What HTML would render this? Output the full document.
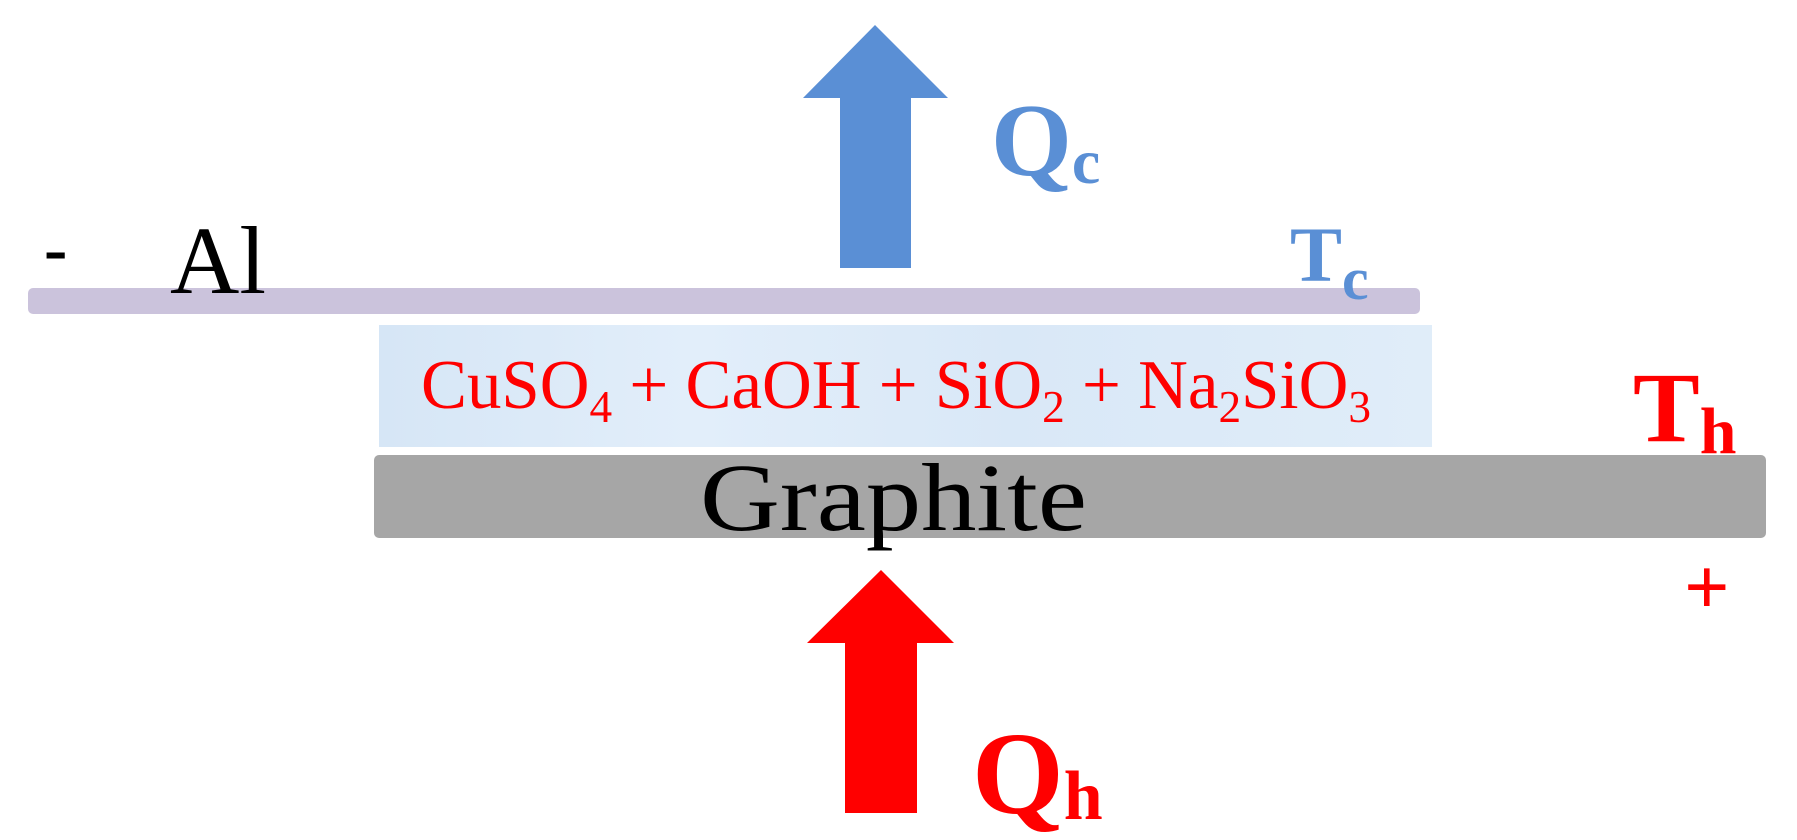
<!DOCTYPE html>
<html><head><meta charset="utf-8"><style>
html,body{margin:0;padding:0;background:#fff;width:1797px;height:840px;overflow:hidden}
svg{display:block}
text{font-family:"Liberation Serif",serif}
</style></head><body>
<svg width="1797" height="840" viewBox="0 0 1797 840" xmlns="http://www.w3.org/2000/svg">
<defs>
<linearGradient id="bl" x1="0" y1="0" x2="1" y2="0">
<stop offset="0" stop-color="#d6e6f6"/><stop offset="0.3" stop-color="#e2eefa"/><stop offset="0.6" stop-color="#d9e8f7"/><stop offset="1" stop-color="#e0edf9"/>
</linearGradient>
</defs>
<polygon points="875,25 948,98 911,98 911,268 840,268 840,98 803,98" fill="#5a8fd5"/>
<rect x="28" y="288" width="1392" height="26" rx="5" fill="#cbc3dc"/>
<rect x="379" y="325" width="1053" height="122" fill="url(#bl)"/>
<rect x="374" y="455" width="1392" height="83" rx="5" fill="#a6a6a6"/>
<polygon points="881,570 954,643 917,643 917,813 845,813 845,643 807,643" fill="#ff0000"/>

<text x="44" y="272" font-size="70" font-weight="bold" fill="#000">-</text>
<text x="170" y="293" font-size="96" fill="#000">Al</text>
<text x="700" y="530" font-size="96" fill="#000" textLength="387" lengthAdjust="spacingAndGlyphs">Graphite</text>

<text x="991" y="175" font-size="104" font-weight="bold" fill="#5a8fd5">Q<tspan font-size="64" dy="8">c</tspan></text>
<text x="1290" y="281" font-size="78" font-weight="bold" fill="#5a8fd5">T<tspan font-size="60" dy="18">c</tspan></text>

<text x="421" y="408" font-size="70" fill="#ff0000" textLength="950" lengthAdjust="spacingAndGlyphs">CuSO<tspan font-size="46" dy="14">4</tspan><tspan dy="-14"> + CaOH + SiO</tspan><tspan font-size="46" dy="14">2</tspan><tspan dy="-14"> + Na</tspan><tspan font-size="46" dy="14">2</tspan><tspan dy="-14">SiO</tspan><tspan font-size="46" dy="14">3</tspan></text>

<text x="1633" y="441" font-size="100" font-weight="bold" fill="#ff0000">T<tspan font-size="66" dy="12">h</tspan></text>
<text x="1684" y="614" font-size="80" font-weight="bold" fill="#ff0000">+</text>
<text x="972" y="813" font-size="118" font-weight="bold" fill="#ff0000">Q<tspan font-size="70" dy="6">h</tspan></text>
</svg>
</body></html>
